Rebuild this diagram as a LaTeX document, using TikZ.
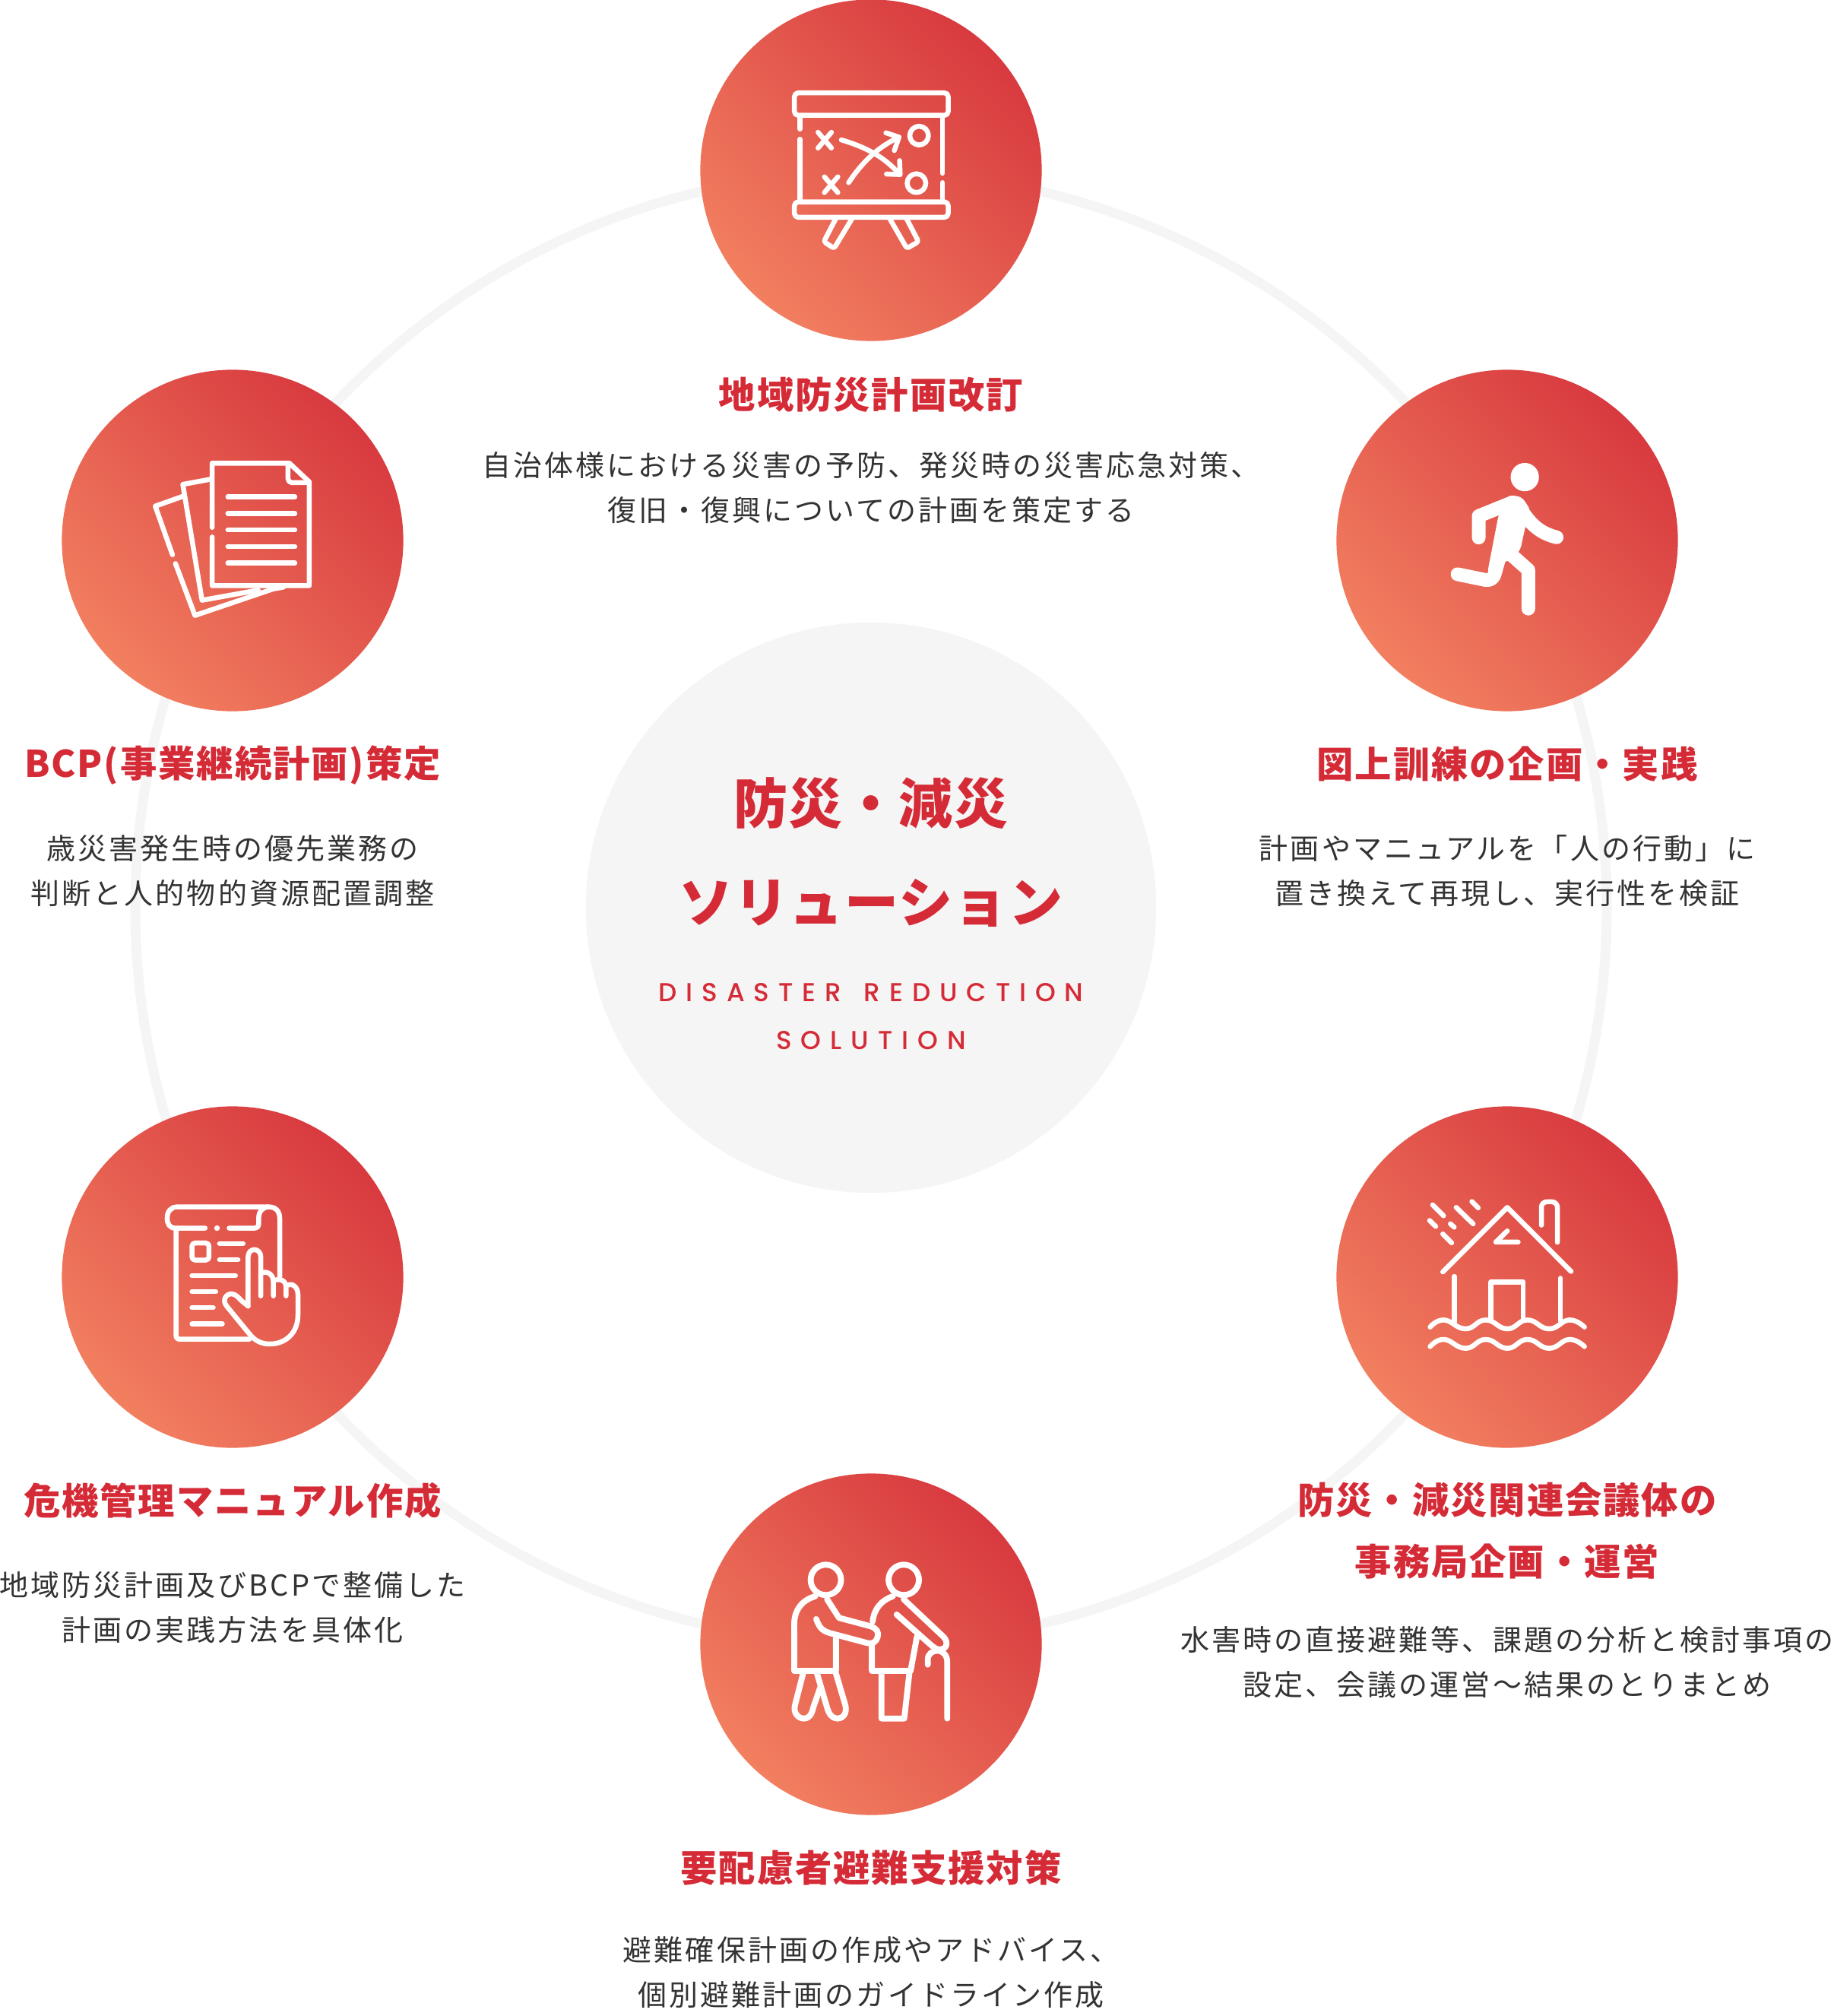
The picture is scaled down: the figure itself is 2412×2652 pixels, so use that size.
\documentclass[tikz,border=0pt]{standalone}
\usepackage{fontspec}
\usepackage{xcolor}
\usepackage{tikz}
\usetikzlibrary{arrows.meta, positioning, calc, shapes}
\newfontfamily\jpbody[LetterSpace=8]{Noto Sans CJK JP}
\newfontfamily\jphead[LetterSpace=4]{Noto Sans CJK JP}
\newfontfamily\jpmain[LetterSpace=2]{Noto Sans CJK JP}
\newfontfamily\ensub[LetterSpace=35, UprightFont=* Medium]{Poppins}
\definecolor{accent}{HTML}{D52B37}
\definecolor{bodyink}{HTML}{333333}
\definecolor{palegray}{HTML}{F5F5F5}
\definecolor{salmon}{HTML}{F27F60}
\definecolor{crimson}{HTML}{D83A3F}
\tikzset{
    bubble/.style={circle, minimum size=4.49cm, inner sep=0pt, top color=salmon, bottom color=crimson, shading angle=135},
    headline/.style={text=accent, inner sep=0pt, align=center, font=\jphead\bfseries\fontsize{13.75}{23}\selectfont},
    bodytext/.style={text=bodyink, inner sep=0pt, align=center, font=\jpbody\fontsize{10.8}{16.8}\selectfont},
    iconline/.style={draw=white, line width=0.065cm, line cap=round, line join=round},
    iconbold/.style={iconline, line width=0.078cm},
    zoomed/.style={x=0.003333cm, y=-0.003333cm}
}
\begin{document}
\begin{tikzpicture}[x=0.01cm, y=-0.01cm]
    \useasboundingbox (0, 0) rectangle (2412, 2652);

    % 中央の円と外周リング
    \node[circle, fill=palegray, minimum size=7.5cm, inner sep=0pt] (hub) at (1146, 1194) {};
    \draw[draw=palegray, line width=0.13cm] (hub) circle (968);

    % 6つの円
    \foreach \id/\x/\y in {plan/1146/224, drill/1983/711, office/1983/1680, care/1146/2163, manual/306/1680, bcp/306/711} {
        \node[bubble] (\id) at (\x, \y) {};
    }

    % 中央の文字
    \node[text=accent, inner sep=0pt, align=center, font=\jpmain\bfseries\fontsize{20.2}{37}\selectfont] (hubtitle) at (1146, 1121) {防災・減災\\ソリューション};
    \node[text=accent, inner sep=0pt, align=center, font=\ensub\fontsize{9.7}{17.7}\selectfont] (hubsub) at (1146, 1337) {DISASTER\hspace{2.6pt} REDUCTION\\SOLUTION};

    % 見出しと説明
    \node[headline] (plantitle) at (1146, 519) {地域防災計画改訂};
    \node[bodytext] (plantext) at (1146, 642) {自治体様における災害の予防、発災時の災害応急対策、\\復旧・復興についての計画を策定する};
    \node[headline] (drilltitle) at (1983, 1005) {図上訓練の企画・実践};
    \node[bodytext] (drilltext) at (1983, 1146) {計画やマニュアルを「人の行動」に\\置き換えて再現し、実行性を検証};
    \node[headline] (officetitle) at (1983, 2014) {防災・減災関連会議体の\\事務局企画・運営};
    \node[bodytext] (officetext) at (1983, 2187) {水害時の直接避難等、課題の分析と検討事項の\\設定、会議の運営〜結果のとりまとめ};
    \node[headline] (caretitle) at (1146, 2457) {要配慮者避難支援対策};
    \node[bodytext] (caretext) at (1146, 2595) {避難確保計画の作成やアドバイス、\\個別避難計画のガイドライン作成};
    \node[headline] (manualtitle) at (306, 1974) {危機管理マニュアル作成};
    \node[bodytext] (manualtext) at (306, 2115) {地域防災計画及びBCPで整備した\\計画の実践方法を具体化};
    \node[headline] (bcptitle) at (306, 1007) {BCP(事業継続計画)策定};
    \node[bodytext] (bcptext) at (306, 1146) {歳災害発生時の優先業務の\\判断と人的物的資源配置調整};

    % 作戦ボード
    \begin{scope}[shift={(900, 0)}, x=0.003827cm, y=-0.003333cm]
        \draw[iconline, rounded corners=0.05cm] (379, 367) rectangle (907, 456);
        \draw[iconline, rounded corners=0.05cm] (379, 798) rectangle (907, 859);
        \draw[iconline] (398, 460) -- (398, 510);
        \draw[iconline] (398, 550) -- (398, 795);
        \draw[iconline] (887, 460) -- (887, 685);
        \draw[iconline] (887, 722) -- (887, 795);
        \draw[iconline, rounded corners=0.03cm] (522, 862) -- (480, 955) -- (515, 982) -- (578, 862);
        \draw[iconline, rounded corners=0.03cm] (705, 862) -- (765, 982) -- (805, 955) -- (763, 862);
        \foreach \x/\y in {483/554, 505/730} {
            \draw[iconline] (\x-23, \y-31) -- (\x+23, \y+31);
            \draw[iconline] (\x+23, \y-31) -- (\x-23, \y+31);
        }
        \draw[iconline] (807, 536) circle [x radius=32, y radius=37];
        \draw[iconline] (798, 724) circle [x radius=32, y radius=37];
        \draw[iconline] (540, 553) .. controls (620, 580) and (690, 620) .. (740, 690);
        \draw[iconline] (695, 688) -- (742, 690) -- (740, 635);
        \draw[iconline] (565, 722) .. controls (610, 645) and (660, 585) .. (738, 542);
        \draw[iconline] (693, 525) -- (738, 542) -- (722, 595);
    \end{scope}

    % 書類
    \begin{scope}[shift={(150, 560)}, zoomed]
        \draw[iconline] (388, 402) -- (388, 148) -- (693, 148) -- (772, 222) -- (772, 632) -- (388, 632) -- (388, 440);
        \draw[iconline, rounded corners=0.05cm] (688, 155) -- (688, 225) -- (772, 225);
        \foreach \y in {281, 347, 412, 478, 543} {
            \draw[iconline] (450, \y) -- (715, \y);
        }
        \draw[iconline] (380, 212) -- (272, 232) -- (348, 690) -- (570, 650);
        \draw[iconline] (270, 280) -- (163, 318) -- (231, 510);
        \draw[iconline] (243, 545) -- (320, 750) -- (630, 645) -- (670, 638);
    \end{scope}

    % 走る人
    \begin{scope}[shift={(1880, 580)}, zoomed]
        \fill[white] (379, 143) circle (56);
        \fill[white, rounded corners=0.05cm] (300, 225) -- (340, 215) -- (370, 225) -- (400, 270) -- (380, 345) -- (362, 428) -- (330, 470) -- (290, 480) -- (231, 522) -- (275, 295) -- cycle;
        \draw[iconline, line width=0.18cm] (197, 382) -- (197, 297) -- (330, 243);
        \draw[iconline, line width=0.18cm] (350, 250) .. controls (390, 310) and (420, 360) .. (505, 381);
        \draw[iconline, line width=0.18cm] (393, 663) -- (393, 510) -- (320, 445);
        \draw[iconline, line width=0.18cm] (113, 527) -- (225, 550) .. controls (245, 553) and (258, 540) .. (262, 520) -- (290, 420);
    \end{scope}

    % 手順書と手
    \begin{scope}[shift={(190, 1560)}, zoomed]
        \draw[iconline] (240, 167) -- (122, 167) .. controls (100, 167) and (90, 150) .. (90, 128) .. controls (90, 100) and (105, 83) .. (130, 83) -- (490, 83) .. controls (520, 83) and (535, 100) .. (535, 130) -- (535, 360);
        \draw[iconline] (335, 167) -- (435, 167) .. controls (445, 167) and (452, 160) .. (452, 150) -- (452, 125) .. controls (452, 100) and (470, 83) .. (490, 83);
        \fill[white] (287, 167) circle (11);
        \draw[iconline, rounded corners=0.04cm] (125, 175) -- (125, 606) -- (415, 606);
        \draw[iconline, rounded corners=0.04cm] (188, 226) rectangle (255, 293);
        \foreach \x/\y/\w in {297/228/390, 297/292/370, 188/355/360, 188/418/282, 188/481/272, 188/545/308} {
            \draw[iconline] (\x, \y) -- (\w, \y);
        }
        \draw[iconline] (410, 475) -- (410, 280) .. controls (410, 262) and (422, 252) .. (435, 252) .. controls (450, 252) and (460, 265) .. (460, 280) -- (460, 435);
        \draw[iconline] (460, 345) .. controls (480, 335) and (510, 345) .. (510, 380) -- (510, 435);
        \draw[iconline] (510, 375) .. controls (530, 365) and (560, 370) .. (560, 400) -- (560, 435);
        \draw[iconline] (560, 395) .. controls (585, 380) and (607, 400) .. (607, 430) -- (607, 510) .. controls (607, 580) and (560, 625) .. (495, 625) .. controls (460, 625) and (435, 610) .. (415, 585) -- (325, 475) .. controls (305, 450) and (325, 425) .. (345, 427) .. controls (360, 427) and (370, 440) .. (385, 455) -- (410, 475);
    \end{scope}

    % 浸水する家
    \begin{scope}[shift={(1850, 1560)}, zoomed]
        \draw[iconline] (145, 340) -- (400, 85) -- (652, 338);
        \draw[iconline, rounded corners=0.07cm] (535, 155) -- (535, 63) -- (598, 63) -- (598, 223);
        \draw[iconline] (400, 178) -- (355, 222) -- (443, 222);
        \draw[iconline] (190, 358) -- (190, 540);
        \draw[iconline] (610, 365) -- (610, 535);
        \draw[iconline] (335, 525) -- (335, 380) -- (463, 380) -- (463, 525);
        \foreach \wavey in {0, 77} {
            \draw[iconline, shift={(0, \wavey)}] plot[smooth, tension=0.8] coordinates {(95, 558) (150, 530) (235, 565) (315, 530) (400, 565) (480, 530) (565, 565) (645, 530) (705, 558)};
        }
        \foreach \x/\y/\u/\v in {105/75/148/118, 198/85/265/150, 260/62/285/87, 93/137/117/160, 175/150/190/163, 145/190/180/225} {
            \draw[iconline] (\x, \y) -- (\u, \v);
        }
    \end{scope}

    % 付き添う二人
    \begin{scope}[shift={(1020, 2030)}, zoomed]
        \draw[iconbold] (200, 145) circle (60);
        \draw[iconbold] (508, 145) circle (60);
        \draw[iconbold] (158, 210) .. controls (105, 225) and (75, 265) .. (75, 320) -- (75, 505) -- (240, 505) -- (240, 375);
        \draw[iconbold] (205, 222) -- (252, 295) -- (375, 328) .. controls (400, 335) and (410, 350) .. (405, 370) .. controls (400, 390) and (385, 400) .. (365, 395) -- (215, 355) .. controls (185, 345) and (175, 335) .. (162, 300);
        \draw[iconbold] (110, 515) -- (78, 640) .. controls (70, 670) and (90, 693) .. (113, 693) .. controls (135, 693) and (145, 675) .. (150, 650) -- (178, 570);
        \draw[iconbold] (165, 515) -- (205, 650) .. controls (212, 675) and (225, 693) .. (245, 693) .. controls (270, 693) and (285, 670) .. (277, 640) -- (240, 515);
        \draw[iconbold] (465, 210) .. controls (420, 225) and (390, 260) .. (385, 310);
        \draw[iconbold] (382, 405) -- (382, 505) -- (535, 505) -- (560, 370);
        \draw[iconbold] (508, 222) -- (665, 370) .. controls (685, 390) and (680, 420) .. (650, 420) .. controls (635, 420) and (625, 410) .. (615, 402) -- (480, 282);
        \draw[iconbold] (420, 515) -- (420, 693) -- (510, 693) -- (530, 515);
        \draw[iconbold] (603, 480) -- (603, 460) .. controls (603, 435) and (625, 425) .. (640, 425) .. controls (665, 425) and (680, 445) .. (680, 470) -- (680, 693);
    \end{scope}
\end{tikzpicture}
\end{document}
